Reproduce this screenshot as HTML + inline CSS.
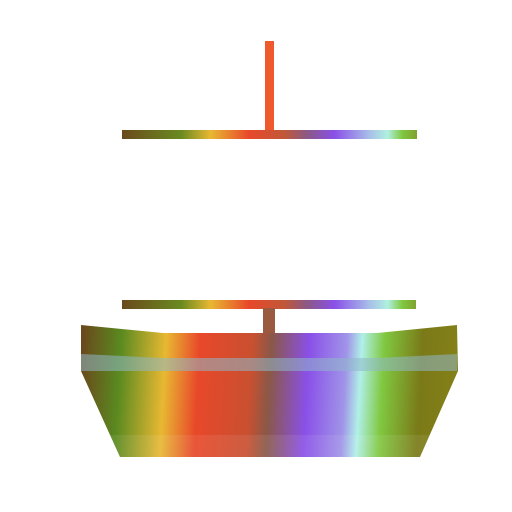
<!DOCTYPE html>
<html><head><meta charset="utf-8"><style>html,body{margin:0;padding:0;background:#fff}svg{display:block}</style></head>
<body>
<svg width="512" height="512" viewBox="0 0 512 512">
<defs>
<linearGradient id="g" gradientUnits="userSpaceOnUse" x1="81" y1="380" x2="457" y2="400">
<stop offset="0" stop-color="#6a4a1c"/>
<stop offset="0.1" stop-color="#5a8a20"/>
<stop offset="0.22" stop-color="#e8b832"/>
<stop offset="0.31" stop-color="#e8482a"/>
<stop offset="0.45" stop-color="#c85030"/>
<stop offset="0.5" stop-color="#8a5848"/>
<stop offset="0.6" stop-color="#8a50e8"/>
<stop offset="0.7" stop-color="#a094e8"/>
<stop offset="0.74" stop-color="#b0f0e8"/>
<stop offset="0.8" stop-color="#80c840"/>
<stop offset="0.9" stop-color="#7a7a18"/>
<stop offset="1" stop-color="#858018"/>
</linearGradient>
<linearGradient id="bar" gradientUnits="userSpaceOnUse" x1="122" y1="0" x2="417" y2="0">
<stop offset="0" stop-color="#6a4a1c"/>
<stop offset="0.2" stop-color="#6a8a20"/>
<stop offset="0.3" stop-color="#e8b832"/>
<stop offset="0.43" stop-color="#e8482a"/>
<stop offset="0.55" stop-color="#c05838"/>
<stop offset="0.63" stop-color="#8a5888"/>
<stop offset="0.72" stop-color="#8a50e8"/>
<stop offset="0.84" stop-color="#a8c0e8"/>
<stop offset="0.9" stop-color="#b0f0e0"/>
<stop offset="0.95" stop-color="#80c840"/>
<stop offset="1" stop-color="#80a030"/>
</linearGradient>
</defs>
<rect x="265" y="41" width="9" height="92" fill="#ee5a2e"/>
<rect x="122" y="130" width="295" height="9" fill="url(#bar)"/>
<rect x="122" y="300" width="294" height="9" fill="url(#bar)"/>
<rect x="263" y="308" width="12" height="27" fill="#9a5a40"/>
<polygon points="81,325 163,333 377,333 457,325 458,371 420,457 120,457 81,371" fill="url(#g)"/>
<rect x="90" y="435" width="360" height="22" fill="#fff" opacity="0.08"/>
<polygon points="81,354 163,358 377,358 457,354 457,371 81,371" fill="#8fb8c8" opacity="0.55"/>
</svg>
</body></html>
